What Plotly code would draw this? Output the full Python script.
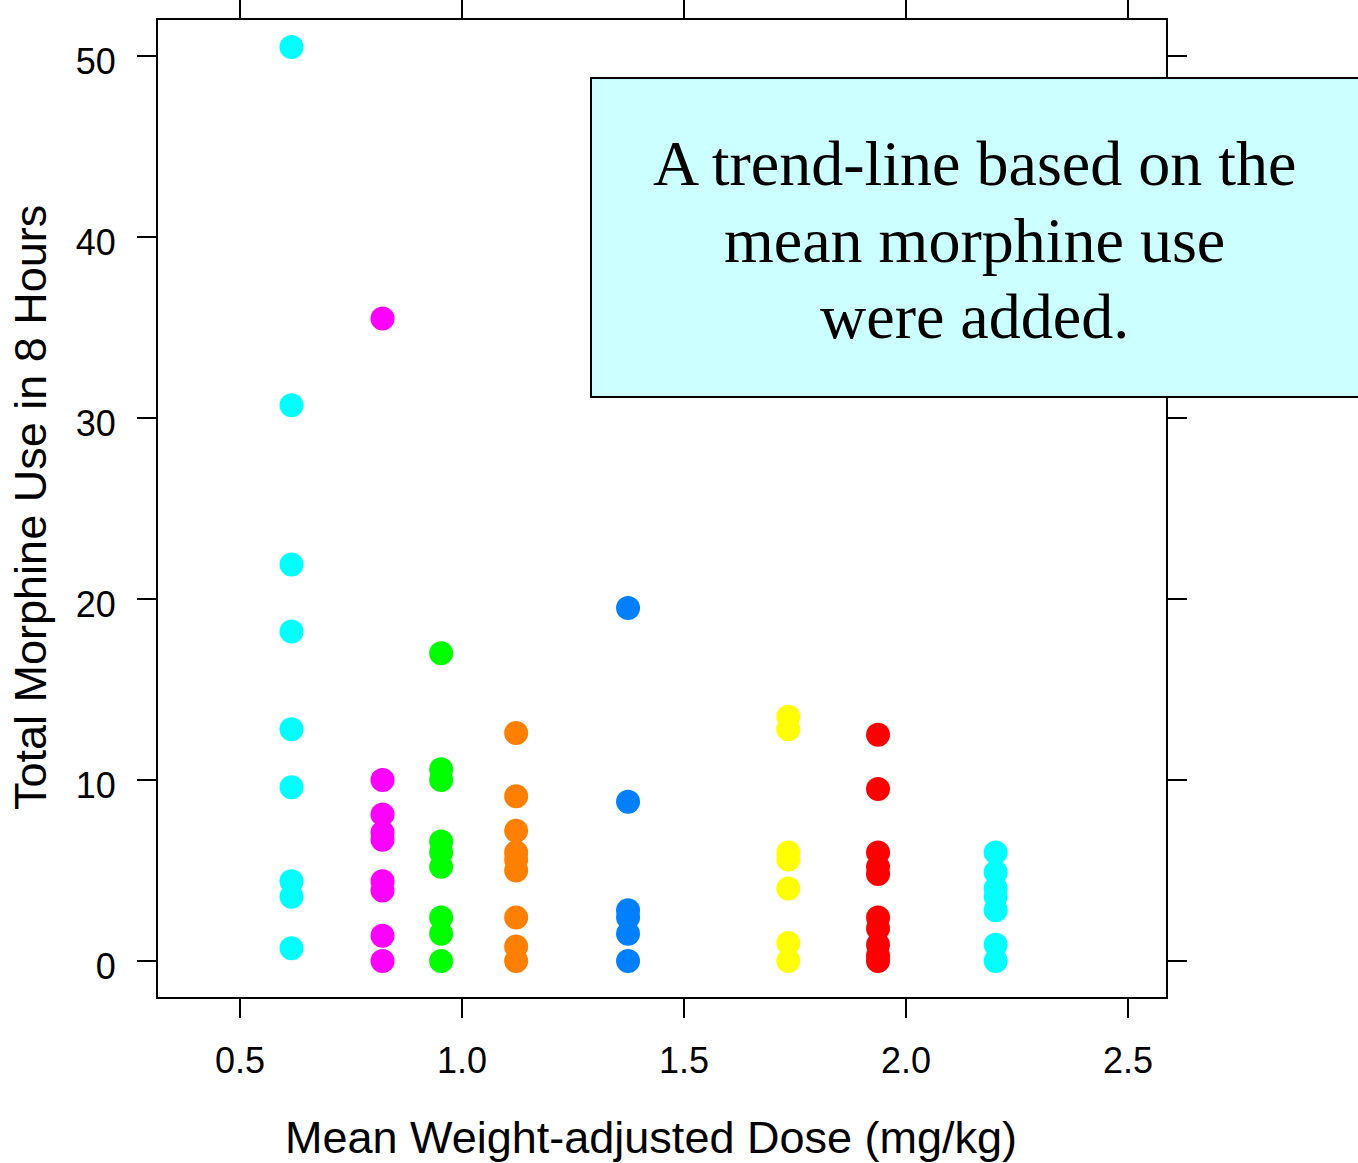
import plotly.graph_objects as go

# Dose groups (mean weight-adjusted dose, mg/kg) and colours
doses = [0.616, 0.821, 0.953, 1.122, 1.374, 1.735, 1.937, 2.202]
colors = ["#00FFFF", "#FF00FF", "#00FF00", "#FF8000", "#0080FF", "#FFFF00", "#FF0000", "#00FFFF"]

# Total morphine use in 8 hours per patient, by dose group
use_g1 = [50.5, 30.7, 21.9, 18.2, 12.8, 9.6, 4.4, 3.55, 0.7]
use_g2 = [35.5, 10.0, 8.1, 7.1, 6.7, 4.4, 3.9, 1.4, 0.0]
use_g3 = [17.0, 10.6, 10.0, 6.6, 6.0, 5.2, 2.4, 1.5, 0.0]
use_g4 = [12.6, 9.1, 7.2, 6.0, 5.6, 5.0, 2.4, 0.8, 0.0]
use_g5 = [19.5, 8.8, 2.8, 2.4, 1.5, 0.0]
use_g6 = [13.5, 12.8, 6.0, 5.6, 4.0, 1.0, 0.0]
use_g7 = [12.5, 9.5, 6.0, 5.2, 4.8, 2.4, 1.8, 0.9, 0.3, 0.0]
use_g8 = [6.0, 4.9, 4.0, 3.55, 2.8, 0.9, 0.0]
groups = [use_g1, use_g2, use_g3, use_g4, use_g5, use_g6, use_g7, use_g8]

x_ticks = [0.5, 1.0, 1.5, 2.0, 2.5]
x_ticklabels = ["0.5", "1.0", "1.5", "2.0", "2.5"]
y_ticks = [0, 10, 20, 30, 40, 50]
y_ticklabels = ["0", "10", "20", "30", "40", "50"]

x_title = "Mean Weight-adjusted Dose (mg/kg)"
y_title = "Total Morphine Use in 8 Hours"
note_lines = ["A trend-line based on the", "mean morphine use", "were added."]

fig = go.Figure()
for d, c, vals in zip(doses, colors, groups):
    fig.add_trace(go.Scatter(
        x=[d] * len(vals), y=vals, mode="markers",
        marker=dict(color=c, size=24, line=dict(width=0)),
        showlegend=False, hoverinfo="x+y"))

axis_common = dict(
    showline=True, linecolor="black", linewidth=2, mirror="allticks",
    ticks="outside", ticklen=19, tickwidth=2, tickcolor="black",
    showgrid=False, zeroline=False, automargin=False,
    tickfont=dict(family="Liberation Sans, Arial, sans-serif", size=36, color="black"),
)

fig.update_xaxes(range=[0.3153, 2.5856], tickvals=x_ticks, ticktext=x_ticklabels,
                 ticklabelstandoff=12, **axis_common)
fig.update_yaxes(range=[-1.99, 51.99], tickvals=y_ticks, ticktext=y_ticklabels,
                 ticklabelstandoff=14, ticklabelshift=5, **axis_common)

fig.add_shape(type="rect", xref="paper", yref="paper",
              x0=(591 - 158) / 1008, x1=(1362 - 158) / 1008,
              y0=(997 - 397) / 977, y1=(997 - 78) / 977,
              fillcolor="#CCFFFF", line=dict(color="black", width=2), layer="above")

line_centers = [164, 241, 317]
for txt, cy in zip(note_lines, line_centers):
    fig.add_annotation(xref="paper", yref="paper",
                       x=(974.5 - 158) / 1008, y=(997 - cy) / 977,
                       xanchor="center", yanchor="middle", showarrow=False,
                       text=txt, align="center",
                       font=dict(family="Liberation Serif, Times New Roman, serif", size=64, color="black"))

fig.add_annotation(xref="paper", yref="paper",
                   x=(651 - 158) / 1008, y=(997 - 1137) / 977,
                   xanchor="center", yanchor="middle", showarrow=False,
                   text=x_title,
                   font=dict(family="Liberation Sans, Arial, sans-serif", size=45, color="black"))
fig.add_annotation(xref="paper", yref="paper",
                   x=(30 - 158) / 1008, y=(997 - 508) / 977,
                   xanchor="center", yanchor="middle", showarrow=False,
                   text=y_title, textangle=-90,
                   font=dict(family="Liberation Sans, Arial, sans-serif", size=45, color="black"))

fig.update_layout(
    width=1358, height=1163,
    margin=dict(l=158, r=192, t=20, b=166),
    paper_bgcolor="white", plot_bgcolor="white",
)

fig.write_html("out.html")
